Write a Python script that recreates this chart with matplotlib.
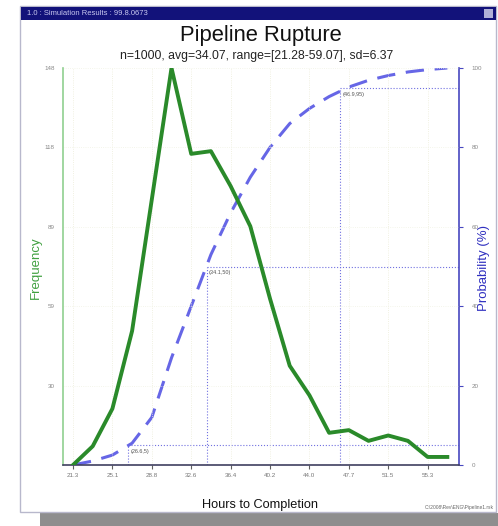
import matplotlib
matplotlib.use('Agg')
import matplotlib.pyplot as plt
from matplotlib.patches import Rectangle

# ---- data ----
hours = [21.28, 23.17, 25.06, 26.95, 28.84, 30.73, 32.62, 34.51, 36.40, 38.29,
         40.18, 42.07, 43.96, 45.85, 47.74, 49.63, 51.52, 53.41, 55.30, 57.19]
freq = [0, 7, 21, 50, 99, 148, 116, 117, 104, 89, 62, 37, 26, 12, 13, 9, 11, 9, 3, 3]
prob = [0, 1, 2.5, 5.5, 12, 27, 40, 53, 63.5, 72.5, 80, 86, 89.8, 92.8, 95.2, 96.9, 98.1, 99.0, 99.6, 100]
xtick_vals = [21.28, 25.06, 28.84, 32.62, 36.40, 40.18, 43.96, 47.74, 51.52, 55.30]
xtick_labels = ['21.3', '25.1', '28.8', '32.6', '36.4', '40.2', '44.0', '47.7', '51.5', '55.3']
ytick_vals = [29.6, 59.2, 88.8, 118.4, 148]
ytick_labels = ['30', '59', '89', '118', '148']
ptick_vals = [0, 20, 40, 60, 80, 100]
ptick_labels = ['0', '20', '40', '60', '80', '100']
pct_levels = [5, 50, 95]
pct_hours = [26.6, 34.1, 46.9]
pct_labels = ['(26.6,5)', '(34.1,50)', '(46.9,95)']

W, H = 498, 526
fig = plt.figure(figsize=(W / 100, H / 100), dpi=100)
fig.patch.set_facecolor('white')
plt.rcParams['font.family'] = ['Liberation Sans', 'DejaVu Sans']

def fx(px):
    return px / W

def fy(py):
    return 1 - py / H

# window decorations (behind axes)
fig.patches.append(Rectangle((fx(40), fy(526)), fx(458), 13 / H, transform=fig.transFigure,
                             facecolor='#8e8e8e', edgecolor='none', zorder=-10))
fig.patches.append(Rectangle((fx(20), fy(512)), fx(476), 506 / H, transform=fig.transFigure,
                             facecolor='white', edgecolor='#b8b8cc', linewidth=1.0, zorder=-9))
fig.patches.append(Rectangle((fx(21), fy(20)), fx(475), 13 / H, transform=fig.transFigure,
                             facecolor='#12127a', edgecolor='none', zorder=-8))
fig.patches.append(Rectangle((fx(484), fy(18)), fx(9), 9 / H, transform=fig.transFigure,
                             facecolor='#b0b0d8', edgecolor='none', zorder=-7))
fig.text(fx(27), fy(13.5), '1.0 : Simulation Results : 99.8.0673', fontsize=5.5,
         color='#c8c8f0', va='center', ha='left')

fig.text(fx(261), fy(36), 'Pipeline Rupture', fontsize=15.8, ha='center', va='center', color='#111111')
fig.text(fx(257), fy(56), 'n=1000, avg=34.07, range=[21.28-59.07], sd=6.37', fontsize=8.8,
         ha='center', va='center', color='#222222')

ax = fig.add_axes([fx(63), fy(465), fx(459 - 63), (465 - 68) / H])
ax2 = ax.twinx()
ax2.set_zorder(1)
ax.set_zorder(2)
ax.patch.set_visible(False)
ax2.patch.set_visible(False)

ax.set_xlim(20.32, 58.31)
ax.set_ylim(0, 148)
ax2.set_ylim(0, 100)

# faint grid
for xv in xtick_vals:
    ax.axvline(xv, color='#ececd8', linestyle=':', linewidth=0.6, zorder=0)
for yv in ytick_vals:
    ax.axhline(yv, color='#f0f2e4', linestyle=':', linewidth=0.6, zorder=0)

# percentile crosshairs
xmax = ax.get_xlim()[1]
for lv, hv, lab in zip(pct_levels, pct_hours, pct_labels):
    ax2.plot([hv, hv], [0, lv], color='#7070e0', linestyle=':', linewidth=0.8, zorder=2)
    ax2.plot([hv, xmax], [lv, lv], color='#7070e0', linestyle=':', linewidth=0.8, zorder=2)
    ax2.text(hv + 0.2, lv - 1.0, lab, fontsize=4, color='#555555', va='top', ha='left')

ax2.plot(hours, prob, color='#6666e6', linewidth=2.2, linestyle=(0, (6, 3.5)), zorder=3)
ax.plot(hours, freq, color='#2a8a2a', linewidth=2.8, zorder=4, solid_joinstyle='round')

# spines
for a in (ax, ax2):
    a.spines['top'].set_visible(False)
ax.spines['left'].set_color('#90d090')
ax.spines['left'].set_linewidth(1.2)
ax2.spines['left'].set_visible(False)
ax.spines['right'].set_visible(False)
ax2.spines['right'].set_color('#4848c0')
ax2.spines['right'].set_linewidth(1.2)
ax.spines['bottom'].set_color('#404060')
ax.spines['bottom'].set_linewidth(1.2)
ax2.spines['bottom'].set_visible(False)

ax.set_xticks(xtick_vals)
ax.set_xticklabels(xtick_labels)
ax.set_yticks(ytick_vals)
ax.set_yticklabels(ytick_labels)
ax2.set_yticks(ptick_vals)
ax2.set_yticklabels(ptick_labels)
ax.tick_params(axis='x', length=3, width=0.8, color='#606060', labelsize=4.5,
               labelcolor='#777777', pad=3)
ax.tick_params(axis='y', length=0, labelsize=4.5, labelcolor='#888888', pad=6)
ax2.tick_params(axis='y', length=3, width=0.8, color='#4848c0', labelsize=4.5,
                labelcolor='#888888', pad=6)

fig.text(fx(36), fy(268), 'Frequency', rotation=90, fontsize=9.5, color='#40a040',
         ha='center', va='center')
fig.text(fx(484), fy(268), 'Probability (%)', rotation=90, fontsize=9.5, color='#3030c0',
         ha='center', va='center')
fig.text(fx(260), fy(505), 'Hours to Completion', fontsize=9.2, color='#111111',
         ha='center', va='center')
fig.text(fx(494), fy(508), 'C:\\2008\\Rev\\ENG\\Pipeline1.rsk', fontsize=3.5, color='#666666',
         ha='right', va='center')

fig.savefig('out.png', dpi=100, facecolor='white')
